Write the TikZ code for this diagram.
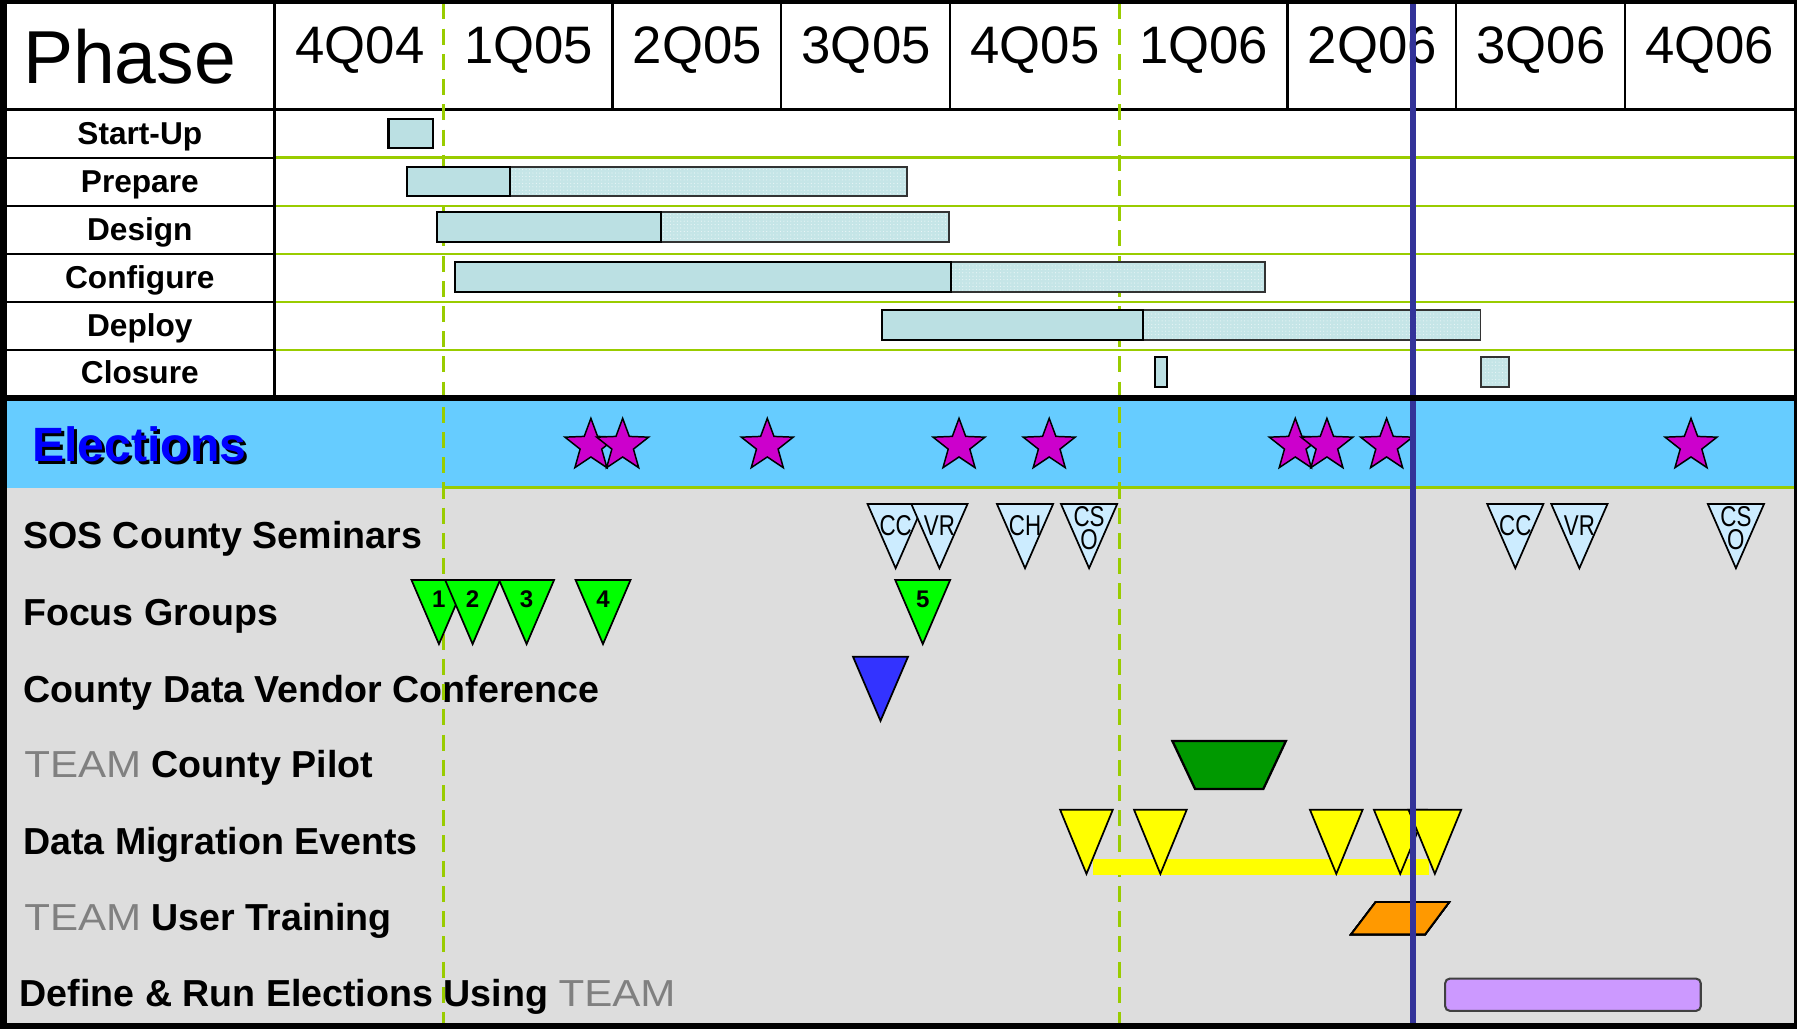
\documentclass[tikz,border=0pt]{standalone}
\usepackage{fontspec}
\usepackage{graphicx}
\setmainfont{Liberation Sans}
\usetikzlibrary{shapes.geometric,patterns}
\definecolor{lgreen}{HTML}{99CC00}
\definecolor{barblue}{HTML}{BBE0E3}
\definecolor{bandblue}{HTML}{66CCFF}
\definecolor{bggray}{HTML}{DDDDDD}
\definecolor{sosblue}{HTML}{CCECFF}
\definecolor{fgreen}{HTML}{00FF00}
\definecolor{cdvblue}{HTML}{3333FF}
\definecolor{pilotgreen}{HTML}{009900}
\definecolor{migyellow}{HTML}{FFFF00}
\definecolor{trainorange}{HTML}{FF9900}
\definecolor{runlav}{HTML}{CC99FF}
\definecolor{starmag}{HTML}{CC00CC}
\definecolor{nowblue}{HTML}{333399}
\definecolor{teamgray}{HTML}{808080}
\definecolor{elecblue}{HTML}{0000FF}
\tikzset{
  greenline/.style={draw=lgreen, line width=2.3pt},
  blackline/.style={draw=black, line width=2pt},
  vdashline/.style={draw=lgreen, line width=2.3pt, dash pattern=on 14pt off 8pt},
  barsolid/.style={fill=barblue, draw=black, line width=1.8pt},
  bardot/.style={preaction={fill=barblue!85!white}, pattern=dots, pattern color=white!70!barblue, draw=black!80, line width=1.6pt},
  tri/.style={draw=black, line width=1.5pt, line join=miter},
  mystar/.style={star, star points=5, star point ratio=2.4, minimum size=47.6pt, inner sep=0pt, fill=starmag, draw=black, line width=1.3pt},
  qlab/.style={font=\fontsize{46}{46}\selectfont, anchor=base, inner sep=0pt},
  rowlab/.style={font=\bfseries\fontsize{27.6}{27.6}\selectfont, anchor=base, inner sep=0pt},
  biglab/.style={font=\bfseries\fontsize{32.8}{32.8}\selectfont, anchor=base west, inner sep=0pt},
  eleclab/.style={font=\bfseries\fontsize{42}{42}\selectfont, anchor=base west, inner sep=0pt},
  triletter/.style={font=\fontsize{25}{20.4}\selectfont, anchor=base, inner sep=0pt, xscale=0.78},
  tristack/.style={font=\fontsize{25}{20.4}\selectfont, align=center, anchor=north, inner sep=0pt, xscale=0.78},
  trinum/.style={font=\bfseries\fontsize{21}{21}\selectfont, anchor=base, inner sep=0pt}
}
\newcommand{\mytri}[4]{\draw[tri,fill=#4] ({#1-#3},#2) -- ({#1+#3},#2) -- (#1,{#2+56}) -- cycle;}
\newcommand{\teamword}{{\mdseries\color{teamgray}\scalebox{1.12}[1]{TEAM}}}
\begin{document}
\begin{tikzpicture}[x=1pt,y=-1pt]
\useasboundingbox (0,0) rectangle (1568,898);
\fill[white] (0,0) rectangle (1568,898);
\fill[bandblue] (0,349) rectangle (1568,425.5);
\fill[bggray] (0,425.5) rectangle (1568,898);
% grid lines
\foreach \yy in {137.6,179.8,221.7,263.5,305.4} \draw[greenline] (240,\yy) -- (1565,\yy);
\draw[greenline] (387.2,425.5) -- (1565,425.5);
\draw[blackline] (0,95.5) -- (1568,95.5);
\foreach \yy in {137.6,179.8,221.7,263.5,305.4} \draw[blackline] (0,\yy) -- (240,\yy);
\draw[blackline] (239.5,0) -- (239.5,347);
\foreach \xx in {534.4,681.7,828.9,1123.3,1270.6,1417.8} \draw[blackline] (\xx,0) -- (\xx,95.5);
% header texts
\node[font=\fontsize{65.5}{65.5}\selectfont, anchor=base west, inner sep=0pt] (phase) at (20,73) {Phase};
\foreach \lab [count=\i] in {4Q04,1Q05,2Q05,3Q05,4Q05,1Q06,2Q06,3Q06,4Q06}
  \node[qlab] (q\i) at ({240+147.22*(\i-0.5)+0.5},55.5) {\lab};
% phase labels
\node[rowlab] (lstart) at (122,126.5) {Start-Up};
\node[rowlab] (lprep) at (122,168) {Prepare};
\node[rowlab] (ldes) at (122,210) {Design};
\node[rowlab] (lconf) at (122,251.6) {Configure};
\node[rowlab] (ldep) at (122,293.8) {Deploy};
\node[rowlab] (lclos) at (122,335) {Closure};
% elections
\node[eleclab, text=black] (elecsh) at (30.5,405.5) {Elections};
\node[eleclab, text=elecblue] (elec) at (28,403) {Elections};
% lower labels
\node[biglab] (lsos) at (20,479) {SOS County Seminars};
\node[biglab] (lfocus) at (20,546) {Focus Groups};
\node[biglab] (lcdv) at (20,613) {County Data Vendor Conference};
\node[biglab] (lpilot) at (21,678.3) {\teamword{} County Pilot};
\node[biglab] (lmig) at (20,746) {Data Migration Events};
\node[biglab] (ltrain) at (21,811.5) {\teamword{} User Training};
\node[biglab] (ldef) at (17,878.4) {Define \& Run Elections Using \teamword};
% dashed quarter lines
\draw[vdashline] (387.2,3) -- (387.2,893);
\draw[vdashline] (976.6,3) -- (976.6,893);
% phase bars
\draw[barsolid] (339,103.8) rectangle (377.7,129.4);
\draw[bardot] (445,145.4) rectangle (791.6,171);
\draw[barsolid] (355,145.4) rectangle (445,171);
\draw[bardot] (577,184.7) rectangle (827.8,210.9);
\draw[barsolid] (381,184.7) rectangle (577,210.9);
\draw[bardot] (829.5,228.6) rectangle (1104,254.5);
\draw[barsolid] (396.7,228.6) rectangle (829.5,254.5);
\draw[bardot] (997.5,270.8) rectangle (1291.8,296.4);
\draw[barsolid] (769.4,270.8) rectangle (997.5,296.4);
\draw[barsolid] (1008,311.7) rectangle (1018,338);
\draw[bardot] (1292,311.7) rectangle (1317,338);
% election stars
\foreach \sx [count=\i] in {515.6,543.3,669.5,836.8,915.5,1130.2,1157.8,1209.9,1475.5}
  \node[mystar] (star\i) at (\sx,388.8) {};
% SOS seminars
\mytri{781.5}{439.8}{24.5}{sosblue}
\mytri{819.7}{439.8}{24.5}{sosblue}
\mytri{894.4}{439.8}{24.5}{sosblue}
\mytri{950.3}{439.8}{24.5}{sosblue}
\mytri{1322.2}{439.8}{24.5}{sosblue}
\mytri{1378.1}{439.8}{24.5}{sosblue}
\mytri{1514.7}{439.8}{24.5}{sosblue}
\node[triletter] (cc1) at (781.5,467.5) {CC};
\node[triletter] (vr1) at (819.7,467.5) {VR};
\node[triletter] (ch1) at (894.4,467.5) {CH};
\node[tristack] (cso1) at (950.3,441.5) {CS\\O};
\node[triletter] (cc2) at (1322.2,467.5) {CC};
\node[triletter] (vr2) at (1378.1,467.5) {VR};
\node[tristack] (cso2) at (1514.7,441.5) {CS\\O};
% focus groups
\foreach \fx/\num in {383/1,412.4/2,459.5/3,526.2/4,805.1/5}{
  \mytri{\fx}{506}{24}{fgreen}
  \node[trinum] (fg\num) at (\fx,530) {\num};
}
% vendor conference
\mytri{768.3}{573}{24}{cdvblue}
% county pilot
\draw[draw=black, line width=2pt, fill=pilotgreen] (1023,646.6) -- (1122,646.6) -- (1102.3,688.5) -- (1042.8,688.5) -- cycle;
% data migration
\fill[migyellow] (954,749.9) rectangle (1247,763.3);
\foreach \mx in {948,1012.5,1166,1221.8,1252}
  \mytri{\mx}{706.5}{23}{migyellow}
% user training
\draw[draw=black, line width=1.6pt, fill=trainorange] (1200.4,787) -- (1264.6,787) -- (1243.5,815.3) -- (1178.9,815.3) -- cycle;
% define & run
\draw[fill=runlav, draw=black!75, line width=1.8pt, rounded corners=4pt] (1261,853.9) rectangle (1484,882);
% today line
\draw[draw=nowblue, line width=5.2pt] (1232.9,3) -- (1232.9,895);
% borders
\fill[black] (0,345) rectangle (1568,350);
\fill[black] (0,0) rectangle (1568,3.5);
\fill[black] (0,893) rectangle (1568,898);
\fill[black] (0,0) rectangle (6,898);
\fill[black] (1565,0) rectangle (1568,898);
\end{tikzpicture}
\end{document}
